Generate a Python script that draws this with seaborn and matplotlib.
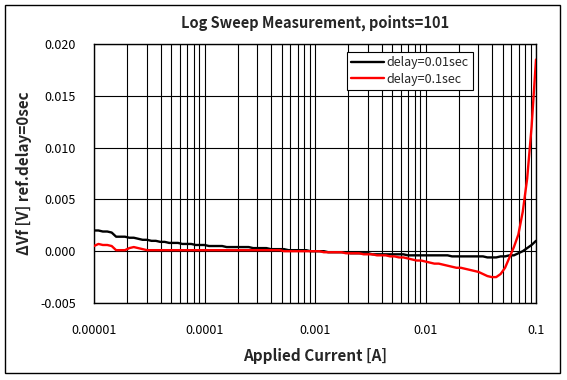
import numpy as np
import pandas as pd
import matplotlib
matplotlib.use("Agg")
import matplotlib.pyplot as plt
import seaborn as sns
from matplotlib.ticker import FixedLocator, LogLocator, NullFormatter
from matplotlib.patches import Rectangle

# Sweep: 101 log points from 1e-5 A to 0.1 A
current = np.logspace(-5, -1, 101)

delay_001 = [
    0.0020, 0.0020, 0.0019, 0.0019, 0.0018, 0.0014, 0.0014, 0.0014, 0.0013, 0.0013,
    0.0012, 0.0011, 0.0011, 0.0010, 0.0010, 0.0009, 0.0009, 0.0008, 0.0008, 0.0008,
    0.0007, 0.0007, 0.0007, 0.0006, 0.0006, 0.0006, 0.0005, 0.0005, 0.0005, 0.0005,
    0.0004, 0.0004, 0.0004, 0.0004, 0.0004, 0.0004, 0.0003, 0.0003, 0.0003, 0.0003,
    0.0002, 0.0002, 0.0002, 0.0002, 0.0001, 0.0001, 0.0001, 0.0001, 0.0001, 0.0000,
    0.0000, 0.0000, 0.0000, -0.0001, -0.0001, -0.0001, -0.0001, -0.0001, -0.0002, -0.0002,
    -0.0002, -0.0002, -0.0002, -0.0003, -0.0003, -0.0003, -0.0003, -0.0003, -0.0003, -0.0003,
    -0.0003, -0.0004, -0.0004, -0.0004, -0.0004, -0.0004, -0.0004, -0.0004, -0.0004, -0.0004,
    -0.0004, -0.0005, -0.0005, -0.0005, -0.0005, -0.0005, -0.0005, -0.0005, -0.0005, -0.0006,
    -0.0006, -0.0006, -0.0005, -0.0005, -0.0004, -0.0004, -0.0002, 0.0000, 0.0003, 0.0006,
    0.0010,
]

delay_01 = [
    0.0005, 0.0007, 0.0006, 0.0006, 0.0005, 0.0001, 0.0001, 0.0001, 0.0003, 0.0004,
    0.0003, 0.0002, 0.0001, 0.0001, 0.0001, 0.0001, 0.0001, 0.0001, 0.0001, 0.0001,
    0.0001, 0.0001, 0.0001, 0.0001, 0.0001, 0.0001, 0.0001, 0.0001, 0.0001, 0.0001,
    0.0001, 0.0001, 0.0001, 0.0001, 0.0001, 0.0001, 0.0001, 0.0001, 0.0001, 0.0001,
    0.0001, 0.0001, 0.0001, 0.0000, 0.0000, 0.0000, 0.0000, 0.0000, 0.0000, 0.0000,
    0.0000, 0.0000, -0.0001, -0.0001, -0.0001, -0.0001, -0.0001, -0.0002, -0.0002, -0.0002,
    -0.0002, -0.0003, -0.0003, -0.0003, -0.0004, -0.0004, -0.0004, -0.0005, -0.0005, -0.0006,
    -0.0006, -0.0007, -0.0008, -0.0009, -0.0009, -0.0010, -0.0011, -0.0012, -0.0012, -0.0013,
    -0.0014, -0.0015, -0.0016, -0.0016, -0.0017, -0.0018, -0.0019, -0.0020, -0.0022, -0.0024,
    -0.0025, -0.0025, -0.0022, -0.0016, -0.0006, 0.0004, 0.0016, 0.0038, 0.0070, 0.0120,
    0.0185,
]

series_names = ["delay=0.01sec", "delay=0.1sec"]
series_colors = ["#000000", "#ff0000"]
x_ticks = [1e-5, 1e-4, 1e-3, 1e-2, 1e-1]
x_tick_labels = ["0.00001", "0.0001", "0.001", "0.01", "0.1"]
y_ticks = [-0.005, 0.0, 0.005, 0.010, 0.015, 0.020]
y_tick_labels = ["-0.005", "0.000", "0.005", "0.010", "0.015", "0.020"]

df = pd.DataFrame({
    "current": np.concatenate([current, current]),
    "dvf": np.array(delay_001 + delay_01),
    "series": [series_names[0]] * 101 + [series_names[1]] * 101,
})

sns.set_style("white")
plt.rcParams["font.family"] = ["Noto Sans CJK KR", "DejaVu Sans"]

fig = plt.figure(figsize=(5.67, 3.80), dpi=100)
ax = fig.add_axes([94 / 567, 1 - 303 / 380, (536 - 94) / 567, (303 - 44) / 380])

sns.lineplot(data=df, x="current", y="dvf", hue="series",
             palette=dict(zip(series_names, series_colors)),
             linewidth=1.7, ax=ax, zorder=3)

ax.set_xscale("log")
ax.set_xlim(1e-5, 1e-1)
ax.set_ylim(-0.005, 0.020)

# Grid: every log minor/major vertical line, horizontal at majors
ax.xaxis.set_major_locator(FixedLocator(x_ticks))
ax.xaxis.set_minor_locator(LogLocator(base=10, subs=np.arange(2, 10), numticks=50))
ax.xaxis.set_minor_formatter(NullFormatter())
ax.set_xticks(x_ticks)
ax.set_xticklabels(x_tick_labels)
ax.set_yticks(y_ticks)
ax.set_yticklabels(y_tick_labels)
ax.grid(True, which="major", axis="both", color="black", linewidth=0.8)
ax.grid(True, which="minor", axis="x", color="black", linewidth=0.8)
ax.set_axisbelow(True)
ax.tick_params(axis="both", which="both", length=0, labelsize=9, colors="black")
ax.tick_params(axis="y", pad=13)
ax.tick_params(axis="x", pad=15)

for sp in ax.spines.values():
    sp.set_color("black")
    sp.set_linewidth(1.0)

ax.set_xlabel("Applied Current [A]", fontsize=11, fontweight="bold", labelpad=8)
ax.set_ylabel("ΔVf [V] ref.delay=0sec", fontsize=11, fontweight="bold", labelpad=6)
ax.set_title("Log Sweep Measurement, points=101", fontsize=10.5, fontweight="bold", pad=12)

leg = ax.legend(loc="upper right", bbox_to_anchor=(0.857, 0.969), fontsize=9,
                frameon=True, fancybox=False, edgecolor="black", framealpha=1,
                handlelength=2.6, handletextpad=0.2, borderpad=0.35, labelspacing=0.25,
                borderaxespad=0)
leg.get_frame().set_linewidth(0.8)
leg.set_title(None)

# outer chart frame
fig.patches.append(Rectangle((5 / 567, 1 - 373 / 380), (560 - 5) / 567, (373 - 5) / 380,
                             transform=fig.transFigure, fill=False,
                             edgecolor="black", linewidth=1.0))

fig.savefig("out.png", dpi=100)
